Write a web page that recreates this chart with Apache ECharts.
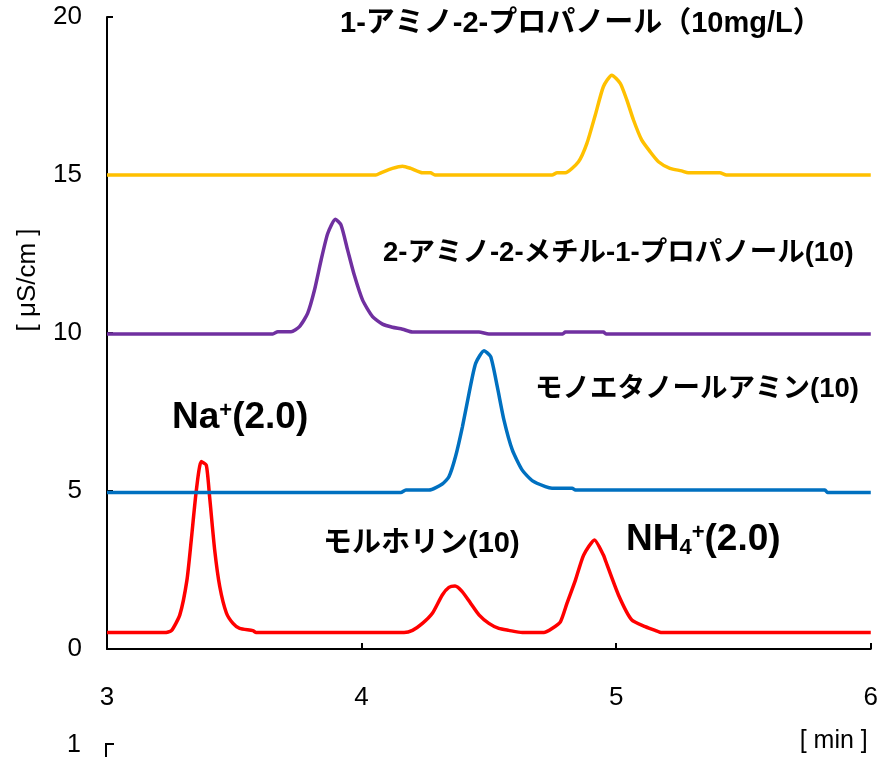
<!DOCTYPE html>
<html>
<head>
<meta charset="utf-8">
<script src="https://cdn.jsdelivr.net/npm/echarts@6/dist/echarts.min.js"></script>
<style>
  html, body { margin: 0; padding: 0; background: #fff; }
  #chart { width: 881px; height: 757px; }
</style>
</head>
<body>
<div id="chart"></div>
<script>
// retention time [min] / conductivity [uS/cm]
var xTicks = [3, 4, 5, 6];
var yTicks = [0, 5, 10, 15, 20];

var redTime = [3.0, 3.227, 3.253, 3.286, 3.314, 3.331, 3.351, 3.37, 3.39, 3.403, 3.423, 3.443, 3.469, 3.495, 3.521, 3.573, 3.586,
    4.167, 4.2, 4.239, 4.278, 4.317, 4.343, 4.367, 4.396, 4.428, 4.461, 4.5, 4.539, 4.578, 4.631, 4.716, 4.748, 4.781, 4.807,
    4.84, 4.872, 4.915, 4.95, 4.957, 5.009, 5.061, 5.114, 5.153, 5.179, 6.0];
var redVal = [0.52, 0.52, 0.58, 1.08, 2.18, 3.45, 5.03, 5.93, 5.82, 4.82, 3.13, 1.97, 1.14, 0.81, 0.65, 0.58, 0.52,
    0.52, 0.59, 0.81, 1.13, 1.71, 1.95, 1.99, 1.81, 1.45, 1.08, 0.81, 0.65, 0.59, 0.52, 0.52, 0.65, 0.86, 1.45,
    2.18, 2.97, 3.45, 2.97, 2.82, 1.71, 0.92, 0.71, 0.59, 0.52, 0.52];

var blueTime = [3.0, 4.154, 4.174, 4.265, 4.317, 4.343, 4.369, 4.396, 4.422, 4.448, 4.481, 4.507, 4.533, 4.559, 4.592,
    4.631, 4.67, 4.722, 4.748, 4.827, 4.84, 5.82, 5.83, 6.0];
var blueVal = [4.95, 4.95, 5.03, 5.03, 5.22, 5.45, 6.09, 7.03, 8.09, 9.04, 9.44, 9.25, 8.3, 7.25, 6.3,
    5.66, 5.33, 5.14, 5.09, 5.09, 5.03, 5.03, 4.95, 4.95];

var purpleTime = [3.0, 3.651, 3.671, 3.723, 3.756, 3.788, 3.815, 3.841, 3.867, 3.897, 3.919, 3.945, 3.971, 4.004, 4.043,
    4.082, 4.121, 4.161, 4.2, 4.461, 4.5, 4.79, 4.8, 4.95, 4.96, 6.0];
var purpleVal = [9.97, 9.97, 10.04, 10.04, 10.2, 10.62, 11.36, 12.31, 13.15, 13.6, 13.42, 12.63, 11.84, 11.04, 10.52,
    10.28, 10.18, 10.12, 10.03, 10.03, 9.97, 9.97, 10.03, 10.03, 9.97, 9.97];

var yellowTime = [3.0, 4.056, 4.076, 4.121, 4.161, 4.193, 4.239, 4.271, 4.288, 4.748, 4.768, 4.8, 4.852, 4.885, 4.918,
    4.95, 4.983, 5.016, 5.042, 5.068, 5.1, 5.133, 5.166, 5.211, 5.257, 5.283, 5.407, 5.433, 6.0];
var yellowVal = [15.0, 15.0, 15.07, 15.21, 15.28, 15.21, 15.07, 15.07, 15.0, 15.0, 15.07, 15.07, 15.42, 16.0, 16.9,
    17.8, 18.16, 17.9, 17.37, 16.74, 16.11, 15.74, 15.42, 15.21, 15.13, 15.07, 15.07, 15.0, 15.0];

var latin = '"Liberation Sans", Arial, sans-serif';
var jp = '"Liberation Sans", "Noto Sans CJK JP", sans-serif';

function pairs(t, v) {
    var out = [];
    for (var i = 0; i < t.length; i++) out.push([t[i], v[i]]);
    return out;
}

function trace(name, color, t, v) {
    return {
        name: name,
        type: 'line',
        data: pairs(t, v),
        showSymbol: false,
        smooth: 0.2,
        lineStyle: { color: color, width: 3.5 },
        itemStyle: { color: color },
        z: name == 'blue' ? 3 : 2
    };
}

// annotation, placed roughly by the vertical centre of its text
function note(left, cy, text, size, rich) {
    return {
        type: 'text',
        left: left,
        top: Math.round(cy - size / 2),
        style: {
            text: text,
            font: 'bold ' + size + 'px ' + jp,
            fill: '#000',
            rich: rich
        }
    };
}

var chart = echarts.init(document.getElementById('chart'));

var option = {
    animation: false,
    backgroundColor: '#fff',
    grid: { left: 107, right: 8, top: 17, bottom: 108 },
    xAxis: {
        type: 'value',
        min: xTicks[0],
        max: xTicks[xTicks.length - 1],
        interval: 1,
        name: '[ min ]',
        nameLocation: 'end',
        nameGap: -3,
        nameTextStyle: { fontFamily: latin, fontSize: 25, color: '#000', align: 'right', verticalAlign: 'top', padding: [80, 0, 0, 0] },
        axisLine: { lineStyle: { color: '#000', width: 2 } },
        axisTick: { inside: true, length: 6, lineStyle: { color: '#000', width: 2 } },
        axisLabel: { margin: 36, fontFamily: latin, fontSize: 26, color: '#000' },
        splitLine: { show: false }
    },
    yAxis: {
        type: 'value',
        min: yTicks[0],
        max: yTicks[yTicks.length - 1],
        interval: 5,
        name: '[ μS/cm ]',
        nameLocation: 'middle',
        nameGap: 66,
        nameRotate: 90,
        nameTextStyle: { fontFamily: latin, fontSize: 26, color: '#000', padding: [0, 0, 0, 106] },
        axisLine: { lineStyle: { color: '#000', width: 2 } },
        axisTick: { inside: true, length: 6, lineStyle: { color: '#000', width: 2 } },
        axisLabel: { margin: 25, fontFamily: latin, fontSize: 26, color: '#000' },
        splitLine: { show: false }
    },
    series: [
        trace('yellow', '#FFC000', yellowTime, yellowVal),
        trace('purple', '#7030A0', purpleTime, purpleVal),
        trace('blue', '#0070C0', blueTime, blueVal),
        trace('red', '#FF0000', redTime, redVal)
    ],
    graphic: [
        note(340, 23, '1-アミノ-2-プロパノール（10mg/L）', 29),
        note(383, 254, '2-アミノ-2-メチル-1-プロパノール(10)', 27.5),
        note(535, 390, 'モノエタノールアミン(10)', 27.5),
        note(323, 543, 'モルホリン(10)', 29),
        note(172, 417, 'Na{sup|+}(2.0)', 37, {
            sup: { font: 'bold 22px ' + latin, fill: '#000', padding: [0, 0, 14, 0] }
        }),
        note(626, 539, 'NH{sub|4}{sup|+}(2.0)', 37, {
            sub: { font: 'bold 22px ' + latin, fill: '#000', padding: [16, 0, 0, 0] },
            sup: { font: 'bold 22px ' + latin, fill: '#000', padding: [0, 0, 14, 0] }
        }),
        // stray label from a second axis peeking in at the bottom
        { type: 'text', left: 67, top: 733, style: { text: '1', font: '25px ' + latin, fill: '#000' } },
        { type: 'polyline', shape: { points: [[106, 757], [106, 744], [114, 744]] }, style: { stroke: '#000', lineWidth: 2, fill: null } }
    ]
};

chart.setOption(option);
</script>
</body>
</html>
